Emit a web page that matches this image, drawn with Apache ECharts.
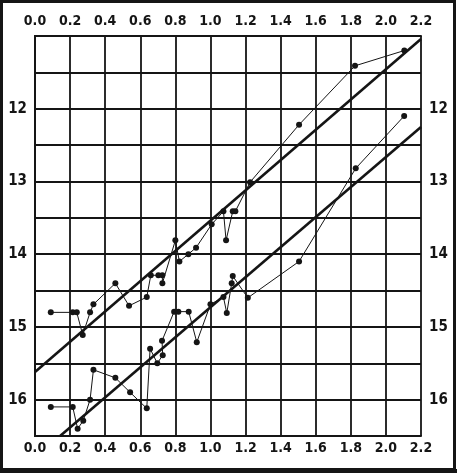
<!DOCTYPE html>
<html>
<head>
<meta charset="utf-8">
<script src="https://cdn.jsdelivr.net/npm/echarts@6/dist/echarts.min.js"></script>
<style>
  html, body { margin: 0; padding: 0; background: #fff; }
  #chart { width: 457px; height: 473px; }
</style>
</head>
<body>
<div id="chart"></div>
<script>
// upper sequence (joined points)
const upperX = [0.09, 0.215, 0.238, 0.272, 0.314, 0.333, 0.458, 0.536, 0.637, 0.66, 0.703, 0.726, 0.726,
                0.80, 0.823, 0.874, 0.918, 1.007, 1.074, 1.089, 1.127, 1.142, 1.226, 1.505, 1.824, 2.105];
const upperY = [14.80, 14.80, 14.80, 15.11, 14.80, 14.69, 14.40, 14.71, 14.59, 14.29, 14.29, 14.29, 14.40,
                13.81, 14.10, 14.00, 13.91, 13.59, 13.41, 13.81, 13.41, 13.41, 13.01, 12.22, 11.41, 11.20];

// lower sequence
const lowerX = [0.09, 0.215, 0.243, 0.275, 0.314, 0.333, 0.458, 0.542, 0.637, 0.656, 0.697, 0.728, 0.724,
                0.793, 0.817, 0.876, 0.922, 1.0, 1.074, 1.093, 1.121, 1.127, 1.213, 1.505, 1.828, 2.104];
const lowerY = [16.10, 16.10, 16.40, 16.29, 16.00, 15.59, 15.70, 15.90, 16.12, 15.30, 15.50, 15.39, 15.19,
                14.79, 14.79, 14.79, 15.21, 14.69, 14.59, 14.81, 14.40, 14.30, 14.60, 14.10, 12.82, 12.10];

// fitted straight lines (end points)
const fitUpperX = [0, 2.2];
const fitUpperY = [15.62, 11.04];
const fitLowerX = [0.143, 2.2];
const fitLowerY = [16.5, 12.25];

const xTicks = ['0.0', '0.2', '0.4', '0.6', '0.8', '1.0', '1.2', '1.4', '1.6', '1.8', '2.0', '2.2'];
const yTicks = [12, 13, 14, 15, 16];

const zip = (xs, ys) => xs.map((x, i) => [x, ys[i]]);

const INK = '#151515';
const FONT = "'Liberation Sans Narrow', 'DejaVu Sans Condensed', sans-serif";

const labelStyle = {
    color: INK,
    fontFamily: FONT,
    fontSize: 14,
    fontWeight: 'bold',
};

function xAxis(position, withGrid) {
    return {
        type: 'value',
        position,
        min: 0,
        max: 2.2,
        interval: 0.2,
        axisLine: { show: true, lineStyle: { color: INK, width: 2 } },
        axisTick: { show: false },
        splitLine: { show: withGrid, lineStyle: { color: INK, width: 1.8 } },
        axisLabel: {
            ...labelStyle,
            margin: position === 'top' ? 8 : 5,
            showMinLabel: true,
            showMaxLabel: true,
            formatter: (v) => xTicks[Math.round(v / 0.2)] || '',
        },
    };
}

function yAxis(position, withGrid) {
    return {
        type: 'value',
        position,
        inverse: true,
        min: 11,
        max: 16.5,
        interval: 0.5,
        axisLine: { show: true, lineStyle: { color: INK, width: 2 } },
        axisTick: { show: false },
        splitLine: { show: withGrid, lineStyle: { color: INK, width: 1.8 } },
        axisLabel: {
            ...labelStyle,
            fontSize: 15,
            margin: 8,
            formatter: (v) => yTicks.includes(v) ? String(v) : '',
        },
    };
}

const pointSeries = (data) => ({
    type: 'line',
    data,
    xAxisIndex: 0,
    yAxisIndex: 0,
    symbol: 'circle',
    symbolSize: 6,
    itemStyle: { color: INK },
    lineStyle: { color: INK, width: 1 },
    animation: false,
    z: 3,
});

const fitSeries = (data) => ({
    type: 'line',
    data,
    xAxisIndex: 0,
    yAxisIndex: 0,
    showSymbol: false,
    lineStyle: { color: INK, width: 2.6 },
    animation: false,
    z: 4,
});

const chart = echarts.init(document.getElementById('chart'), null, { renderer: 'canvas' });
chart.setOption({
    backgroundColor: '#fff',
    animation: false,
    grid: { left: 35, right: 36, top: 36, bottom: 37 },
    xAxis: [xAxis('bottom', true), xAxis('top', false)],
    yAxis: [yAxis('left', true), yAxis('right', false)],
    series: [
        pointSeries(zip(upperX, upperY)),
        pointSeries(zip(lowerX, lowerY)),
        fitSeries(zip(fitUpperX, fitUpperY)),
        fitSeries(zip(fitLowerX, fitLowerY)),
    ],
    // scanned page frame
    graphic: [
        {
            type: 'rect',
            shape: { x: 1.5, y: 1.5, width: 453, height: 468 },
            style: { fill: 'none', stroke: INK, lineWidth: 3 },
            silent: true,
        },
        {
            type: 'line',
            shape: { x1: 0, y1: 471, x2: 457, y2: 471 },
            style: { stroke: INK, lineWidth: 4 },
            silent: true,
        },
    ],
});
</script>
</body>
</html>
